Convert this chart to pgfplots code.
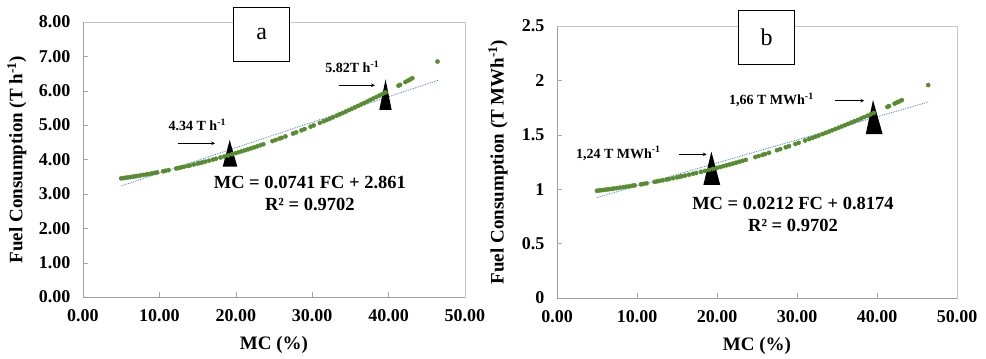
\documentclass[border=0pt]{standalone}
\usepackage{fontspec}
\setmainfont{Liberation Serif}
\usepackage{pgfplots}
\usepackage{pgfplotstable}
\pgfplotsset{compat=1.18}
\definecolor{ptgreen}{RGB}{88,140,48}
\definecolor{trendblue}{RGB}{80,120,210}
\pgfplotstableread{
x y
5.0 3.450
5.3 3.460
5.6 3.469
5.9 3.479
6.2 3.489
6.5 3.500
6.8 3.510
7.1 3.521
7.5 3.536
7.9 3.551
8.3 3.566
8.6 3.578
9.0 3.594
9.4 3.611
9.7 3.624
10.5 3.658
10.8 3.672
11.2 3.690
12.2 3.737
12.5 3.752
12.8 3.767
13.2 3.787
13.7 3.812
14.0 3.828
14.5 3.855
15.0 3.882
15.3 3.899
15.6 3.916
16.0 3.938
16.5 3.967
17.0 3.997
17.4 4.021
18.0 4.058
18.5 4.089
19.0 4.121
19.5 4.153
20.0 4.187
20.4 4.214
20.8 4.241
21.2 4.269
21.6 4.297
22.0 4.325
22.4 4.354
22.8 4.383
23.2 4.413
23.6 4.443
24.8 4.535
25.2 4.566
25.7 4.606
26.0 4.630
26.5 4.671
27.5 4.755
27.9 4.789
28.6 4.849
29.0 4.884
29.8 4.955
30.2 4.992
31.0 5.065
31.5 5.112
31.9 5.149
32.3 5.188
32.7 5.227
33.2 5.275
33.6 5.315
34.0 5.354
34.4 5.395
34.8 5.436
35.2 5.477
35.6 5.518
36.0 5.559
36.4 5.602
36.8 5.644
37.2 5.687
37.6 5.730
38.0 5.774
38.4 5.818
38.8 5.862
39.2 5.907
39.6 5.952
41.3 6.148
41.5 6.172
42.2 6.254
42.5 6.291
42.8 6.326
43.1 6.363
46.4 6.850
}\dataA
\pgfplotstableread{
x y
5.0 0.9857
5.3 0.9886
5.6 0.9911
5.9 0.9940
6.2 0.9969
6.5 1.0000
6.8 1.0029
7.1 1.0060
7.5 1.0103
7.9 1.0146
8.3 1.0189
8.6 1.0223
9.0 1.0269
9.4 1.0317
9.7 1.0354
10.5 1.0451
10.8 1.0491
11.2 1.0543
12.2 1.0677
12.5 1.0720
12.8 1.0763
13.2 1.0820
13.7 1.0891
14.0 1.0937
14.5 1.1014
15.0 1.1091
15.3 1.1140
15.6 1.1189
16.0 1.1251
16.5 1.1334
17.0 1.1420
17.4 1.1489
18.0 1.1594
18.5 1.1683
19.0 1.1774
19.5 1.1866
20.0 1.1963
20.4 1.2040
20.8 1.2117
21.2 1.2197
21.6 1.2277
22.0 1.2357
22.4 1.2440
22.8 1.2523
23.2 1.2609
23.6 1.2694
24.8 1.2957
25.2 1.3046
25.7 1.3160
26.0 1.3229
26.5 1.3346
27.5 1.3586
27.9 1.3683
28.6 1.3854
29.0 1.3954
29.8 1.4157
30.2 1.4263
31.0 1.4471
31.5 1.4606
31.9 1.4711
32.3 1.4823
32.7 1.4934
33.2 1.5071
33.6 1.5186
34.0 1.5297
34.4 1.5414
34.8 1.5531
35.2 1.5649
35.6 1.5766
36.0 1.5883
36.4 1.6006
36.8 1.6126
37.2 1.6249
37.6 1.6371
38.0 1.6497
38.4 1.6623
38.8 1.6749
39.2 1.6877
39.6 1.7006
41.3 1.7566
41.5 1.7634
42.2 1.7869
42.5 1.7974
42.8 1.8074
43.1 1.8180
46.4 1.9570
}\dataB
\pgfplotsset{
  base/.style={
    scale only axis, anchor=south west, clip=false,
    xmin=0, xmax=50, xtick={0,10,...,50},
    axis line style={gray!45},
    tick pos=left, tick align=inside, major tick length=5pt,
    tick style={gray!70},
    /pgf/number format/assume math mode=true,
    ticklabel style={font=\fontsize{18}{18}\selectfont\bfseries},
    xticklabel style={yshift=-9pt, /pgf/number format/fixed, /pgf/number format/fixed zerofill, /pgf/number format/precision=2},
    yticklabel style={xshift=-9pt},
    label style={font=\fontsize{19}{19}\selectfont\bfseries},
    xlabel={MC (\%)},
  },
}
\tikzset{
  ann/.style={font=\fontsize{14}{14}\selectfont\bfseries},
  eq/.style={font=\fontsize{18.5}{18.5}\selectfont\bfseries},
  boxlab/.style={draw=black, line width=1.1pt, fill=white, minimum width=56pt, minimum height=54pt, inner sep=0pt, font=\fontsize{24}{24}\selectfont},
}
\begin{document}
\begin{tikzpicture}
\useasboundingbox (0,0) rectangle (986pt,359pt);
% ---- panel a ----
\begin{axis}[base,
  at={(83pt,62pt)}, width=382pt, height=275pt,
  ymin=0, ymax=8, ytick={0,1,...,8},
  yticklabel style={/pgf/number format/fixed, /pgf/number format/fixed zerofill, /pgf/number format/precision=2},
  ylabel={Fuel Consumption (T h\textsuperscript{-1})},
  ylabel style={at={(axis description cs:-0.173,0.5)}, anchor=center},
  xlabel style={at={(axis description cs:0.5,-0.175)}, anchor=center},
]
\draw[gray!75] (rel axis cs:0,1) -- (rel axis cs:0,0) -- (rel axis cs:1,0);
\addplot[trendblue, densely dotted, line width=0.8pt] coordinates {(5,3.2315) (46.5,6.3067)};
\addplot[only marks, mark=*, mark size=2.1pt, ptgreen] table {\dataA};
\addplot[fill=black, draw=none] coordinates {(18.29,3.79) (19.2,4.57) (20.2,3.79)} -- cycle;
\addplot[fill=black, draw=none] coordinates {(38.78,5.44) (39.6,6.33) (40.4,5.44)} -- cycle;
\addplot[-stealth, black, line width=0.7pt] coordinates {(12.47,4.47) (17.28,4.47)};
\addplot[-stealth, black, line width=0.7pt] coordinates {(33.55,6.16) (38.2,6.16)};
\node[ann] at (axis cs:14.96,5.0) {4.34 T h\textsuperscript{-1}};
\node[ann] at (axis cs:35.25,6.70) {5.82T h\textsuperscript{-1}};
\node[eq] at (axis cs:29.7,3.33) {MC = 0.0741 FC + 2.861};
\node[eq] at (axis cs:29.7,2.70) {R² = 0.9702};
\node[boxlab] at (axis cs:23.4,7.64) {a};
\end{axis}
% ---- panel b ----
\begin{axis}[base,
  at={(557pt,61pt)}, width=400pt, height=272pt,
  ymin=0, ymax=2.5, ytick={0,0.5,...,2.5},
  ylabel={Fuel Consumption (T MWh\textsuperscript{-1})},
  ylabel style={at={(axis description cs:-0.1475,0.5)}, anchor=center},
  xlabel style={at={(axis description cs:0.5,-0.176)}, anchor=center},
]
\draw[gray!75] (rel axis cs:0,1) -- (rel axis cs:0,0) -- (rel axis cs:1,0);
\addplot[trendblue, densely dotted, line width=0.8pt] coordinates {(5,0.9234) (46.5,1.8032)};
\addplot[only marks, mark=*, mark size=2.1pt, ptgreen] table {\dataB};
\addplot[fill=black, draw=none] coordinates {(18.3,1.04) (19.3,1.345) (20.4,1.04)} -- cycle;
\addplot[fill=black, draw=none] coordinates {(38.6,1.507) (39.5,1.82) (40.7,1.507)} -- cycle;
\addplot[-stealth, black, line width=0.7pt] coordinates {(15.2,1.32) (18.7,1.32)};
\addplot[-stealth, black, line width=0.7pt] coordinates {(34.75,1.813) (38.4,1.813)};
\node[ann] at (axis cs:7.66,1.33) {1,24 T MWh\textsuperscript{-1}};
\node[ann] at (axis cs:26.8,1.82) {1,66 T MWh\textsuperscript{-1}};
\node[eq] at (axis cs:29.5,0.870) {MC = 0.0212 FC + 0.8174};
\node[eq] at (axis cs:29.5,0.665) {R² = 0.9702};
\node[boxlab] at (axis cs:26.2,2.396) {b};
\end{axis}
\end{tikzpicture}
\end{document}
